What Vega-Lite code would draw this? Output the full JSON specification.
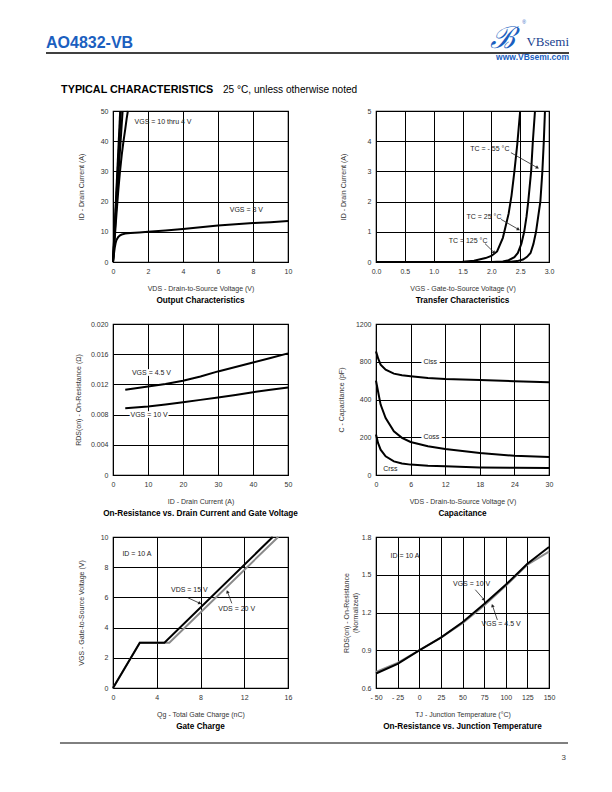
{
  "$schema": "https://vega.github.io/schema/vega-lite/v6.json",
  "background": "white",
  "padding": {"left": 45, "top": 18, "right": 0, "bottom": 0},
  "spacing": 10,
  "config": {
    "font": "Liberation Sans, Arial, sans-serif",
    "view": {"stroke": "#000", "strokeWidth": 1.2},
    "axis": {
      "grid": true, "gridColor": "#000", "gridOpacity": 1, "gridWidth": 1,
      "domain": false, "ticks": false, "tickCount": 20,
      "labelFont": "Liberation Sans, Arial, sans-serif",
      "labelFontSize": 7, "labelColor": "#333", "labelPadding": 5,
      "labelFlush": false, "labelOverlap": false,
      "titleFont": "Liberation Sans, Arial, sans-serif",
      "titleFontSize": 7, "titleFontWeight": "normal", "titleColor": "#333", "titlePadding": 10
    },
    "title": {"orient": "bottom", "font": "Liberation Sans, Arial, sans-serif", "fontSize": 8.2, "fontWeight": "bold", "color": "#000", "offset": 6},
    "line": {"color": "#000", "strokeWidth": 2, "clip": true},
    "text": {"font": "Liberation Sans, Arial, sans-serif", "fontSize": 7, "color": "#222", "align": "left", "baseline": "middle"},
    "rule": {"color": "#222", "strokeWidth": 0.8},
    "point": {"filled": true, "color": "#222", "size": 14, "opacity": 1}
  },
  "datasets": {
    "out": [
      {"vgs": "10 V", "vds": 0, "id": 0}, {"vgs": "10 V", "vds": 0.41, "id": 50},
      {"vgs": "7 V", "vds": 0, "id": 0}, {"vgs": "7 V", "vds": 0.45, "id": 50},
      {"vgs": "5 V", "vds": 0, "id": 0}, {"vgs": "5 V", "vds": 0.25, "id": 24}, {"vgs": "5 V", "vds": 0.4, "id": 37}, {"vgs": "5 V", "vds": 0.55, "id": 50},
      {"vgs": "4 V", "vds": 0, "id": 0}, {"vgs": "4 V", "vds": 0.1, "id": 8}, {"vgs": "4 V", "vds": 0.2, "id": 16}, {"vgs": "4 V", "vds": 0.3, "id": 23.5}, {"vgs": "4 V", "vds": 0.4, "id": 30}, {"vgs": "4 V", "vds": 0.5, "id": 35.5}, {"vgs": "4 V", "vds": 0.6, "id": 40}, {"vgs": "4 V", "vds": 0.7, "id": 44}, {"vgs": "4 V", "vds": 0.78, "id": 47.5}, {"vgs": "4 V", "vds": 0.85, "id": 50},
      {"vgs": "3 V", "vds": 0, "id": 0}, {"vgs": "3 V", "vds": 0.05, "id": 2.5}, {"vgs": "3 V", "vds": 0.1, "id": 4.8}, {"vgs": "3 V", "vds": 0.15, "id": 6.3}, {"vgs": "3 V", "vds": 0.2, "id": 7.3}, {"vgs": "3 V", "vds": 0.3, "id": 8.3}, {"vgs": "3 V", "vds": 0.4, "id": 8.8}, {"vgs": "3 V", "vds": 0.5, "id": 9.1}, {"vgs": "3 V", "vds": 0.7, "id": 9.4}, {"vgs": "3 V", "vds": 1, "id": 9.6}, {"vgs": "3 V", "vds": 1.5, "id": 9.8}, {"vgs": "3 V", "vds": 2, "id": 10}, {"vgs": "3 V", "vds": 3, "id": 10.4}, {"vgs": "3 V", "vds": 4, "id": 10.9}, {"vgs": "3 V", "vds": 5, "id": 11.5}, {"vgs": "3 V", "vds": 6, "id": 12.1}, {"vgs": "3 V", "vds": 7, "id": 12.5}, {"vgs": "3 V", "vds": 8, "id": 12.9}, {"vgs": "3 V", "vds": 9, "id": 13.2}, {"vgs": "3 V", "vds": 10, "id": 13.6}
    ],
    "out_lbl": [
      {"label": "VGS = 10 thru 4 V", "vds": 1.23, "id": 46.4},
      {"label": "VGS = 3 V", "vds": 6.67, "id": 17.3}
    ],
    "tr": [
      {"tc": "125", "vgs": 0, "id": 0}, {"tc": "125", "vgs": 1.2, "id": 0}, {"tc": "125", "vgs": 1.5, "id": 0.01}, {"tc": "125", "vgs": 1.7, "id": 0.04}, {"tc": "125", "vgs": 1.9, "id": 0.13}, {"tc": "125", "vgs": 2.0, "id": 0.2}, {"tc": "125", "vgs": 2.1, "id": 0.35}, {"tc": "125", "vgs": 2.2, "id": 0.8}, {"tc": "125", "vgs": 2.25, "id": 1.2}, {"tc": "125", "vgs": 2.3, "id": 1.6}, {"tc": "125", "vgs": 2.35, "id": 2.2}, {"tc": "125", "vgs": 2.4, "id": 3.0}, {"tc": "125", "vgs": 2.45, "id": 3.9}, {"tc": "125", "vgs": 2.5, "id": 5.0},
      {"tc": "25", "vgs": 0, "id": 0}, {"tc": "25", "vgs": 2.0, "id": 0}, {"tc": "25", "vgs": 2.2, "id": 0.02}, {"tc": "25", "vgs": 2.3, "id": 0.06}, {"tc": "25", "vgs": 2.4, "id": 0.16}, {"tc": "25", "vgs": 2.46, "id": 0.3}, {"tc": "25", "vgs": 2.52, "id": 0.6}, {"tc": "25", "vgs": 2.57, "id": 1.0}, {"tc": "25", "vgs": 2.61, "id": 1.5}, {"tc": "25", "vgs": 2.64, "id": 2.0}, {"tc": "25", "vgs": 2.69, "id": 3.0}, {"tc": "25", "vgs": 2.72, "id": 4.0}, {"tc": "25", "vgs": 2.757, "id": 5.0},
      {"tc": "-55", "vgs": 0, "id": 0}, {"tc": "-55", "vgs": 2.3, "id": 0}, {"tc": "-55", "vgs": 2.45, "id": 0.03}, {"tc": "-55", "vgs": 2.55, "id": 0.08}, {"tc": "-55", "vgs": 2.62, "id": 0.17}, {"tc": "-55", "vgs": 2.68, "id": 0.3}, {"tc": "-55", "vgs": 2.73, "id": 0.6}, {"tc": "-55", "vgs": 2.775, "id": 1.0}, {"tc": "-55", "vgs": 2.82, "id": 1.6}, {"tc": "-55", "vgs": 2.85, "id": 2.0}, {"tc": "-55", "vgs": 2.885, "id": 3.0}, {"tc": "-55", "vgs": 2.91, "id": 4.0}, {"tc": "-55", "vgs": 2.93, "id": 5.0}
    ],
    "tr_lbl": [
      {"label": "TC = - 55 °C", "vgs": 1.635, "id": 3.73, "vgs2": 2.34, "id2": 3.62, "vgs3": 2.8, "id3": 3.12},
      {"label": "TC = 25 °C", "vgs": 1.57, "id": 1.49, "vgs2": 2.17, "id2": 1.41, "vgs3": 2.47, "id3": 1.08},
      {"label": "TC = 125 °C", "vgs": 1.26, "id": 0.68, "vgs2": 1.89, "id2": 0.61, "vgs3": 2.05, "id3": 0.31}
    ],
    "rds": [
      {"vgs": "4.5 V", "id": 3.5, "r": 0.01128}, {"vgs": "4.5 V", "id": 10, "r": 0.01173}, {"vgs": "4.5 V", "id": 15, "r": 0.01205}, {"vgs": "4.5 V", "id": 20, "r": 0.01248}, {"vgs": "4.5 V", "id": 25, "r": 0.01305}, {"vgs": "4.5 V", "id": 30, "r": 0.01372}, {"vgs": "4.5 V", "id": 35, "r": 0.0143}, {"vgs": "4.5 V", "id": 40, "r": 0.01491}, {"vgs": "4.5 V", "id": 45, "r": 0.0155}, {"vgs": "4.5 V", "id": 50, "r": 0.01611},
      {"vgs": "10 V", "id": 3.5, "r": 0.00885}, {"vgs": "10 V", "id": 10, "r": 0.00907}, {"vgs": "10 V", "id": 15, "r": 0.00935}, {"vgs": "10 V", "id": 20, "r": 0.00965}, {"vgs": "10 V", "id": 25, "r": 0.00995}, {"vgs": "10 V", "id": 30, "r": 0.01027}, {"vgs": "10 V", "id": 35, "r": 0.0106}, {"vgs": "10 V", "id": 40, "r": 0.01097}, {"vgs": "10 V", "id": 45, "r": 0.01128}, {"vgs": "10 V", "id": 50, "r": 0.01159}
    ],
    "rds_lbl": [
      {"label": "VGS = 4.5 V", "id": 5.4, "r": 0.0135},
      {"label": "VGS = 10 V", "id": 5.0, "r": 0.008}
    ],
    "cap": [
      {"c": "Ciss", "vds": 0, "pf": 910}, {"c": "Ciss", "vds": 0.4, "pf": 830}, {"c": "Ciss", "vds": 0.8, "pf": 769}, {"c": "Ciss", "vds": 1.67, "pf": 716}, {"c": "Ciss", "vds": 3.1, "pf": 674}, {"c": "Ciss", "vds": 4.5, "pf": 657}, {"c": "Ciss", "vds": 6, "pf": 646}, {"c": "Ciss", "vds": 9, "pf": 628}, {"c": "Ciss", "vds": 12, "pf": 617}, {"c": "Ciss", "vds": 18, "pf": 607}, {"c": "Ciss", "vds": 24, "pf": 593}, {"c": "Ciss", "vds": 30, "pf": 582},
      {"c": "Coss", "vds": 0, "pf": 600}, {"c": "Coss", "vds": 0.35, "pf": 487}, {"c": "Coss", "vds": 0.8, "pf": 373}, {"c": "Coss", "vds": 1.67, "pf": 302}, {"c": "Coss", "vds": 3.1, "pf": 231}, {"c": "Coss", "vds": 4.5, "pf": 197}, {"c": "Coss", "vds": 6, "pf": 175}, {"c": "Coss", "vds": 9, "pf": 152}, {"c": "Coss", "vds": 12, "pf": 138}, {"c": "Coss", "vds": 18, "pf": 117}, {"c": "Coss", "vds": 24, "pf": 102}, {"c": "Coss", "vds": 30, "pf": 95},
      {"c": "Crss", "vds": 0, "pf": 214}, {"c": "Crss", "vds": 0.35, "pf": 170}, {"c": "Crss", "vds": 0.8, "pf": 134}, {"c": "Crss", "vds": 1.67, "pf": 99}, {"c": "Crss", "vds": 3.1, "pf": 72}, {"c": "Crss", "vds": 4.5, "pf": 61}, {"c": "Crss", "vds": 6, "pf": 55}, {"c": "Crss", "vds": 9, "pf": 49}, {"c": "Crss", "vds": 12, "pf": 46}, {"c": "Crss", "vds": 18, "pf": 40}, {"c": "Crss", "vds": 24, "pf": 38}, {"c": "Crss", "vds": 30, "pf": 37}
    ],
    "cap_lbl": [
      {"label": "Ciss", "vds": 9.4, "pf": 800},
      {"label": "Coss", "vds": 9.6, "pf": 200},
      {"label": "Crss", "vds": 2.5, "pf": 33}
    ],
    "gate": [
      {"vds": "20 V", "qg": 0, "vgs": 0}, {"vds": "20 V", "qg": 2.45, "vgs": 3}, {"vds": "20 V", "qg": 5.15, "vgs": 3}, {"vds": "20 V", "qg": 15.1, "vgs": 10},
      {"vds": "15 V", "qg": 0, "vgs": 0}, {"vds": "15 V", "qg": 2.45, "vgs": 3}, {"vds": "15 V", "qg": 4.7, "vgs": 3}, {"vds": "15 V", "qg": 14.6, "vgs": 10}
    ],
    "gate_lbl": [
      {"label": "ID = 10 A", "qg": 0.86, "vgs": 8.86},
      {"label": "VDS = 15 V", "qg": 5.3, "vgs": 6.47, "qg2": 6.8, "vgs2": 5.99, "qg3": 7.94, "vgs3": 5.61},
      {"label": "VDS = 20 V", "qg": 9.63, "vgs": 5.26, "qg2": 10.86, "vgs2": 5.61, "qg3": 10.46, "vgs3": 6.38}
    ],
    "tj": [
      {"vgs": "4.5 V", "t": -50, "r": 0.728}, {"vgs": "4.5 V", "t": -25, "r": 0.8}, {"vgs": "4.5 V", "t": 0, "r": 0.9}, {"vgs": "4.5 V", "t": 25, "r": 1.0}, {"vgs": "4.5 V", "t": 50, "r": 1.115}, {"vgs": "4.5 V", "t": 75, "r": 1.256}, {"vgs": "4.5 V", "t": 100, "r": 1.413}, {"vgs": "4.5 V", "t": 125, "r": 1.58}, {"vgs": "4.5 V", "t": 150, "r": 1.683},
      {"vgs": "10 V", "t": -50, "r": 0.715}, {"vgs": "10 V", "t": -25, "r": 0.792}, {"vgs": "10 V", "t": 0, "r": 0.899}, {"vgs": "10 V", "t": 25, "r": 1.0}, {"vgs": "10 V", "t": 50, "r": 1.123}, {"vgs": "10 V", "t": 75, "r": 1.267}, {"vgs": "10 V", "t": 100, "r": 1.421}, {"vgs": "10 V", "t": 125, "r": 1.587}, {"vgs": "10 V", "t": 150, "r": 1.72}
    ],
    "tj_lbl": [
      {"label": "ID = 10 A", "t": -33.3, "r": 1.648},
      {"label": "VGS = 10 V", "t": 39, "r": 1.43, "t2": 64.8, "r2": 1.381, "t3": 75, "r3": 1.301},
      {"label": "VGS = 4.5 V", "t": 72, "r": 1.107, "t2": 90.3, "r2": 1.141, "t3": 84.6, "r3": 1.256}
    ]
  },
  "vconcat": [
    {
      "width": 440, "height": 78,
      "view": {"stroke": null},
      "data": {"values": [{}]},
      "layer": [
        {"mark": {"type": "text", "text": "AO4832-VB", "align": "left", "baseline": "alphabetic", "font": "Liberation Sans, Arial, sans-serif", "fontWeight": "bold", "fontSize": 16, "color": "#1b5fbf"},
         "encoding": {"x": {"datum": -0.1523, "type": "quantitative", "scale": {"domain": [0, 1], "nice": false, "zero": false}, "axis": null}, "y": {"datum": 0.6154, "type": "quantitative", "scale": {"domain": [0, 1], "nice": false, "zero": false}, "axis": null}}},
        {"mark": {"type": "rule", "color": "#000", "strokeWidth": 1.5},
         "encoding": {"x": {"datum": -0.1523, "type": "quantitative", "scale": {"domain": [0, 1], "nice": false, "zero": false}, "axis": null}, "x2": {"datum": 1.0364}, "y": {"datum": 0.5513, "type": "quantitative", "scale": {"domain": [0, 1], "nice": false, "zero": false}, "axis": null}}},
        {"mark": {"type": "text", "text": "ℬ", "align": "center", "baseline": "alphabetic", "font": "DejaVu Serif", "fontStyle": "italic", "fontSize": 30, "color": "#1b5fbf"},
         "encoding": {"x": {"datum": 0.885, "type": "quantitative", "scale": {"domain": [0, 1], "nice": false, "zero": false}, "axis": null}, "y": {"datum": 0.6154, "type": "quantitative", "scale": {"domain": [0, 1], "nice": false, "zero": false}, "axis": null}}},
        {"mark": {"type": "text", "text": "®", "align": "left", "baseline": "middle", "font": "Liberation Sans", "fontSize": 5, "color": "#1b5fbf"},
         "encoding": {"x": {"datum": 0.93, "type": "quantitative", "scale": {"domain": [0, 1], "nice": false, "zero": false}, "axis": null}, "y": {"datum": 0.95, "type": "quantitative", "scale": {"domain": [0, 1], "nice": false, "zero": false}, "axis": null}}},
        {"mark": {"type": "text", "text": "VBsemi", "align": "right", "baseline": "alphabetic", "font": "Liberation Serif", "fontSize": 13, "color": "#1a3f8f"},
         "encoding": {"x": {"datum": 1.0364, "type": "quantitative", "scale": {"domain": [0, 1], "nice": false, "zero": false}, "axis": null}, "y": {"datum": 0.641, "type": "quantitative", "scale": {"domain": [0, 1], "nice": false, "zero": false}, "axis": null}}},
        {"mark": {"type": "text", "text": "www.VBsemi.com", "align": "right", "baseline": "alphabetic", "font": "Liberation Sans, Arial, sans-serif", "fontWeight": "bold", "fontSize": 8.5, "color": "#1b5fbf"},
         "encoding": {"x": {"datum": 1.0364, "type": "quantitative", "scale": {"domain": [0, 1], "nice": false, "zero": false}, "axis": null}, "y": {"datum": 0.4615, "type": "quantitative", "scale": {"domain": [0, 1], "nice": false, "zero": false}, "axis": null}}},
        {"mark": {"type": "text", "text": "TYPICAL CHARACTERISTICS", "align": "left", "baseline": "alphabetic", "font": "Liberation Sans, Arial, sans-serif", "fontWeight": "bold", "fontSize": 10.8, "color": "#000"},
         "encoding": {"x": {"datum": -0.118, "type": "quantitative", "scale": {"domain": [0, 1], "nice": false, "zero": false}, "axis": null}, "y": {"datum": 0.0385, "type": "quantitative", "scale": {"domain": [0, 1], "nice": false, "zero": false}, "axis": null}}},
        {"mark": {"type": "text", "text": "25 °C, unless otherwise noted", "align": "left", "baseline": "alphabetic", "font": "Liberation Sans, Arial, sans-serif", "fontSize": 10.1, "color": "#000"},
         "encoding": {"x": {"datum": 0.25, "type": "quantitative", "scale": {"domain": [0, 1], "nice": false, "zero": false}, "axis": null}, "y": {"datum": 0.0385, "type": "quantitative", "scale": {"domain": [0, 1], "nice": false, "zero": false}, "axis": null}}}
      ]
    },
    {
      "columns": 2,
      "bounds": "flush",
      "spacing": {"row": 62, "column": 88},
      "concat": [
        {
          "width": 175, "height": 151,
          "title": {"text": "Output Characteristics"},
          "layer": [
            {"data": {"name": "out"}, "mark": {"type": "line"},
             "encoding": {
               "x": {"field": "vds", "type": "quantitative", "scale": {"domain": [0, 10], "nice": false, "zero": false}, "axis": {"values": [0, 2, 4, 6, 8, 10], "format": "d", "title": "VDS - Drain-to-Source Voltage (V)"}},
               "y": {"field": "id", "type": "quantitative", "scale": {"domain": [0, 50], "nice": false}, "axis": {"values": [0, 10, 20, 30, 40, 50], "format": "d", "title": "ID - Drain Current (A)", "titleX": -28.5}},
               "detail": {"field": "vgs"}}},
            {"data": {"name": "out_lbl"}, "mark": {"type": "text"},
             "encoding": {"x": {"field": "vds", "type": "quantitative"}, "y": {"field": "id", "type": "quantitative"}, "text": {"field": "label"}}}
          ]
        },
        {
          "width": 173, "height": 151,
          "title": {"text": "Transfer Characteristics"},
          "layer": [
            {"data": {"name": "tr"}, "mark": {"type": "line"},
             "encoding": {
               "x": {"field": "vgs", "type": "quantitative", "scale": {"domain": [0, 3], "nice": false, "zero": false}, "axis": {"values": [0, 0.5, 1, 1.5, 2, 2.5, 3], "format": ".1f", "title": "VGS - Gate-to-Source Voltage (V)"}},
               "y": {"field": "id", "type": "quantitative", "scale": {"domain": [0, 5], "nice": false}, "axis": {"values": [0, 1, 2, 3, 4, 5], "format": "d", "title": "ID - Drain Current (A)", "titleX": -29.5}},
               "detail": {"field": "tc"}}},
            {"data": {"name": "tr_lbl"}, "mark": {"type": "rule"},
             "encoding": {"x": {"field": "vgs2", "type": "quantitative"}, "y": {"field": "id2", "type": "quantitative"}, "x2": {"field": "vgs3"}, "y2": {"field": "id3"}}},
            {"mark": {"type": "point", "shape": "triangle-up", "angle": 120}, "data": {"values": [{}]},
             "encoding": {"x": {"datum": 2.8, "type": "quantitative"}, "y": {"datum": 3.12, "type": "quantitative"}}},
            {"mark": {"type": "point", "shape": "triangle-up", "angle": 120}, "data": {"values": [{}]},
             "encoding": {"x": {"datum": 2.47, "type": "quantitative"}, "y": {"datum": 1.08, "type": "quantitative"}}},
            {"mark": {"type": "point", "shape": "triangle-up", "angle": 135}, "data": {"values": [{}]},
             "encoding": {"x": {"datum": 2.05, "type": "quantitative"}, "y": {"datum": 0.31, "type": "quantitative"}}},
            {"data": {"name": "tr_lbl"}, "mark": {"type": "text"},
             "encoding": {"x": {"field": "vgs", "type": "quantitative"}, "y": {"field": "id", "type": "quantitative"}, "text": {"field": "label"}}}
          ]
        },
        {
          "width": 175, "height": 151,
          "title": {"text": "On-Resistance vs. Drain Current and Gate Voltage"},
          "layer": [
            {"data": {"name": "rds"}, "mark": {"type": "line"},
             "encoding": {
               "x": {"field": "id", "type": "quantitative", "scale": {"domain": [0, 50], "nice": false, "zero": false}, "axis": {"values": [0, 10, 20, 30, 40, 50], "format": "d", "title": "ID - Drain Current (A)"}},
               "y": {"field": "r", "type": "quantitative", "scale": {"domain": [0, 0.02], "nice": false}, "axis": {"values": [0, 0.004, 0.008, 0.012, 0.016, 0.02], "labelExpr": "datum.value == 0 ? '0' : format(datum.value, '.3f')", "title": "RDS(on) - On-Resistance (Ω)", "titleX": -31.5}},
               "detail": {"field": "vgs"}}},
            {"data": {"name": "rds_lbl"}, "mark": {"type": "text", "color": "white", "stroke": "white", "strokeWidth": 4},
             "encoding": {"x": {"field": "id", "type": "quantitative"}, "y": {"field": "r", "type": "quantitative"}, "text": {"field": "label"}}},
            {"data": {"name": "rds_lbl"}, "mark": {"type": "text"},
             "encoding": {"x": {"field": "id", "type": "quantitative"}, "y": {"field": "r", "type": "quantitative"}, "text": {"field": "label"}}}
          ]
        },
        {
          "width": 173, "height": 151,
          "title": {"text": "Capacitance"},
          "layer": [
            {"data": {"name": "cap"}, "mark": {"type": "line"},
             "encoding": {
               "x": {"field": "vds", "type": "quantitative", "scale": {"domain": [0, 30], "nice": false, "zero": false}, "axis": {"values": [0, 6, 12, 18, 24, 30], "format": "d", "title": "VDS - Drain-to-Source Voltage (V)"}},
               "y": {"field": "pf", "type": "quantitative", "scale": {"domain": [0, 200, 400, 800, 1200], "range": [151, 113.25, 75.5, 37.75, 0], "nice": false}, "axis": {"values": [0, 200, 400, 800, 1200], "format": "d", "title": "C - Capacitance (pF)", "titleX": -31.5}},
               "detail": {"field": "c"}}},
            {"data": {"name": "cap_lbl"}, "mark": {"type": "text", "align": "center", "color": "white", "stroke": "white", "strokeWidth": 5},
             "encoding": {"x": {"field": "vds", "type": "quantitative"}, "y": {"field": "pf", "type": "quantitative"}, "text": {"field": "label"}}},
            {"data": {"name": "cap_lbl"}, "mark": {"type": "text", "align": "center"},
             "encoding": {"x": {"field": "vds", "type": "quantitative"}, "y": {"field": "pf", "type": "quantitative"}, "text": {"field": "label"}}}
          ]
        },
        {
          "width": 175, "height": 151,
          "title": {"text": "Gate Charge"},
          "layer": [
            {"data": {"name": "gate"}, "mark": {"type": "line"},
             "encoding": {
               "x": {"field": "qg", "type": "quantitative", "scale": {"domain": [0, 16], "nice": false, "zero": false}, "axis": {"values": [0, 4, 8, 12, 16], "format": "d", "title": "Qg - Total Gate Charge (nC)"}},
               "y": {"field": "vgs", "type": "quantitative", "scale": {"domain": [0, 10], "nice": false}, "axis": {"values": [0, 2, 4, 6, 8, 10], "format": "d", "title": "VGS - Gate-to-Source Voltage (V)", "titleX": -28.5}},
               "color": {"field": "vds", "type": "nominal", "scale": {"domain": ["20 V", "15 V"], "range": ["#8a8a8a", "#000000"]}, "legend": null}}},
            {"data": {"name": "gate_lbl"}, "mark": {"type": "rule"},
             "encoding": {"x": {"field": "qg2", "type": "quantitative"}, "y": {"field": "vgs2", "type": "quantitative"}, "x2": {"field": "qg3"}, "y2": {"field": "vgs3"}}},
            {"mark": {"type": "point", "shape": "triangle-up", "angle": 115}, "data": {"values": [{}]},
             "encoding": {"x": {"datum": 7.94, "type": "quantitative"}, "y": {"datum": 5.61, "type": "quantitative"}}},
            {"mark": {"type": "point", "shape": "triangle-up", "angle": -20}, "data": {"values": [{}]},
             "encoding": {"x": {"datum": 10.46, "type": "quantitative"}, "y": {"datum": 6.38, "type": "quantitative"}}},
            {"data": {"name": "gate_lbl"}, "mark": {"type": "text"},
             "encoding": {"x": {"field": "qg", "type": "quantitative"}, "y": {"field": "vgs", "type": "quantitative"}, "text": {"field": "label"}}}
          ]
        },
        {
          "width": 173, "height": 151,
          "title": {"text": "On-Resistance vs. Junction Temperature"},
          "layer": [
            {"data": {"name": "tj"}, "mark": {"type": "line"},
             "encoding": {
               "x": {"field": "t", "type": "quantitative", "scale": {"domain": [-50, 150], "nice": false, "zero": false}, "axis": {"values": [-50, -25, 0, 25, 50, 75, 100, 125, 150], "labelExpr": "datum.value < 0 ? '- ' + (-datum.value) : format(datum.value, 'd')", "title": "TJ - Junction Temperature (°C)"}},
               "y": {"field": "r", "type": "quantitative", "scale": {"domain": [0.6, 1.8], "nice": false, "zero": false}, "axis": {"values": [0.6, 0.9, 1.2, 1.5, 1.8], "format": ".1f", "title": ["RDS(on) - On-Resistance", "(Normalized)"], "titleX": -26.5}},
               "color": {"field": "vgs", "type": "nominal", "scale": {"domain": ["4.5 V", "10 V"], "range": ["#8a8a8a", "#000000"]}, "legend": null}}},
            {"data": {"name": "tj_lbl"}, "mark": {"type": "rule"},
             "encoding": {"x": {"field": "t2", "type": "quantitative"}, "y": {"field": "r2", "type": "quantitative"}, "x2": {"field": "t3"}, "y2": {"field": "r3"}}},
            {"mark": {"type": "point", "shape": "triangle-up", "angle": 139}, "data": {"values": [{}]},
             "encoding": {"x": {"datum": 75, "type": "quantitative"}, "y": {"datum": 1.301, "type": "quantitative"}}},
            {"mark": {"type": "point", "shape": "triangle-up", "angle": -19}, "data": {"values": [{}]},
             "encoding": {"x": {"datum": 84.6, "type": "quantitative"}, "y": {"datum": 1.256, "type": "quantitative"}}},
            {"data": {"name": "tj_lbl"}, "mark": {"type": "text"},
             "encoding": {"x": {"field": "t", "type": "quantitative"}, "y": {"field": "r", "type": "quantitative"}, "text": {"field": "label"}}}
          ]
        }
      ]
    },
    {
      "width": 440, "height": 20,
      "view": {"stroke": null},
      "data": {"values": [{}]},
      "layer": [
        {"mark": {"type": "rule", "color": "#000", "strokeWidth": 1},
         "encoding": {"x": {"datum": -0.1205, "type": "quantitative", "scale": {"domain": [0, 1], "nice": false, "zero": false}, "axis": null}, "x2": {"datum": 1.0341}, "y": {"datum": 0.9, "type": "quantitative", "scale": {"domain": [0, 1], "nice": false, "zero": false}, "axis": null}}},
        {"mark": {"type": "text", "text": "3", "align": "right", "baseline": "alphabetic", "font": "Liberation Sans, Arial, sans-serif", "fontSize": 8, "color": "#444"},
         "encoding": {"x": {"datum": 1.0295, "type": "quantitative", "scale": {"domain": [0, 1], "nice": false, "zero": false}, "axis": null}, "y": {"datum": 0.05, "type": "quantitative", "scale": {"domain": [0, 1], "nice": false, "zero": false}, "axis": null}}}
      ]
    }
  ]
}
